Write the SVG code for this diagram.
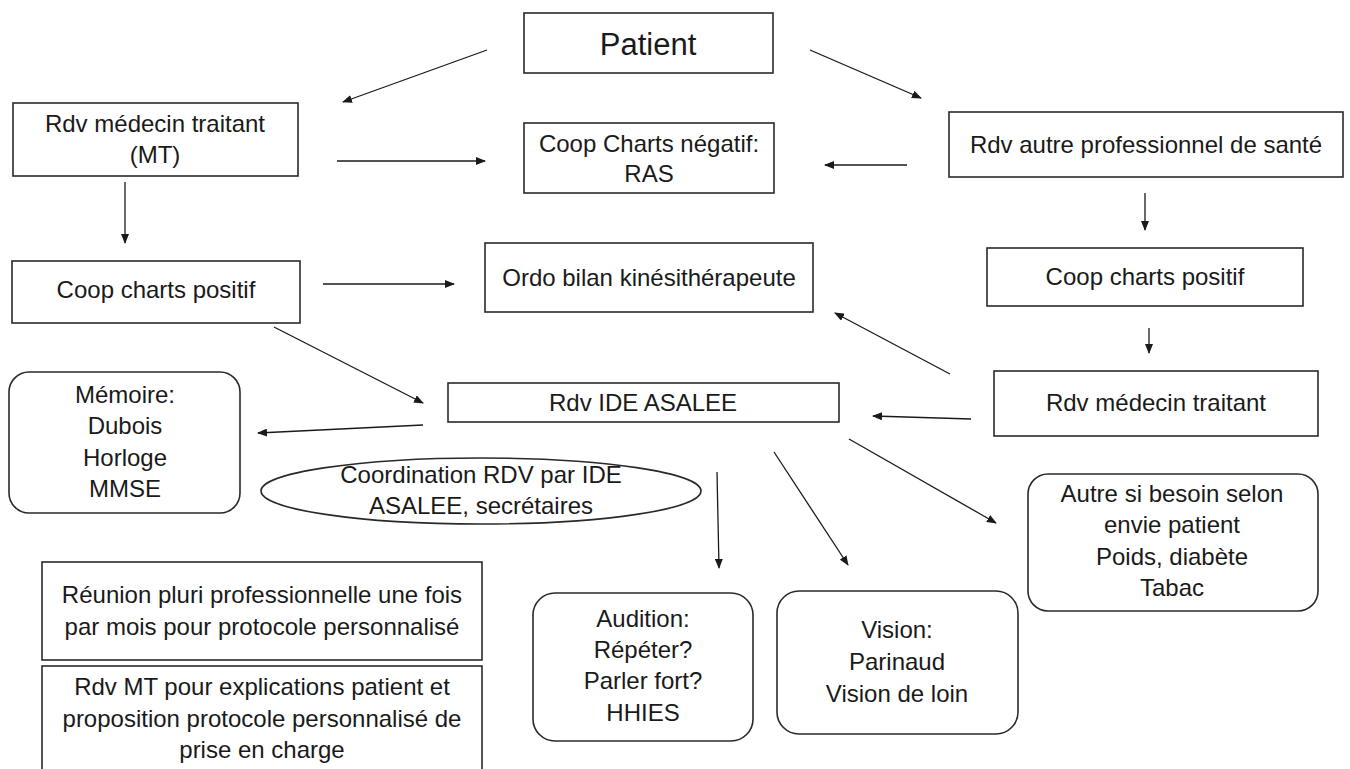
<svg xmlns="http://www.w3.org/2000/svg" width="1350" height="769" viewBox="0 0 1350 769">
<defs>
<style>
.box{fill:#fff;stroke:#2a2a2a;stroke-width:1.6}
.t{font-family:"Liberation Sans",Arial,sans-serif;font-size:24px;fill:#1a1a1a;text-anchor:middle}
.big{font-size:31px}
.c{stroke:#1a1a1a;stroke-width:1.3;fill:none;marker-end:url(#ah)}
</style>
<marker id="ah" markerUnits="userSpaceOnUse" markerWidth="10" markerHeight="8" refX="9" refY="4" orient="auto">
<path d="M0,0 L10,4 L0,8 z" fill="#1a1a1a"/>
</marker>
</defs>
<rect width="1350" height="769" fill="#fff"/>
<g id="connectors">
<line class="c" x1="487" y1="50" x2="343" y2="102"/>
<line class="c" x1="810" y1="50" x2="921" y2="98"/>
<line class="c" x1="337" y1="161" x2="485" y2="161"/>
<line class="c" x1="907" y1="165" x2="825" y2="165"/>
<line class="c" x1="125" y1="182" x2="125" y2="243"/>
<line class="c" x1="1145" y1="193" x2="1145" y2="230"/>
<line class="c" x1="323" y1="284" x2="454" y2="284"/>
<line class="c" x1="1149" y1="328" x2="1149" y2="353"/>
<line class="c" x1="950" y1="374" x2="835" y2="313"/>
<line class="c" x1="274" y1="327" x2="423" y2="403"/>
<line class="c" x1="423" y1="425" x2="258" y2="433"/>
<line class="c" x1="971" y1="419" x2="873" y2="416"/>
<line class="c" x1="717" y1="472" x2="719" y2="568"/>
<line class="c" x1="774" y1="452" x2="848" y2="565"/>
<line class="c" x1="849" y1="439" x2="996" y2="523"/>
</g>
<g id="patient">
<rect class="box" x="524" y="13" width="249" height="60"/>
<text class="t big" x="648" y="55">Patient</text>
</g>
<g id="rdv-mt">
<rect class="box" x="13" y="103" width="285" height="73"/>
<text class="t" x="155" y="132">Rdv médecin traitant</text>
<text class="t" x="155" y="163">(MT)</text>
</g>
<g id="coop-negatif">
<rect class="box" x="524" y="123" width="250" height="70"/>
<text class="t" x="649" y="152">Coop Charts négatif:</text>
<text class="t" x="649" y="182">RAS</text>
</g>
<g id="rdv-autre">
<rect class="box" x="949" y="112" width="394" height="65"/>
<text class="t" x="1146" y="153">Rdv autre professionnel de santé</text>
</g>
<g id="coop-positif-left">
<rect class="box" x="12" y="261" width="288" height="62"/>
<text class="t" x="156" y="298">Coop charts positif</text>
</g>
<g id="ordo">
<rect class="box" x="485" y="243" width="328" height="69"/>
<text class="t" x="649" y="286">Ordo bilan kinésithérapeute</text>
</g>
<g id="coop-positif-right">
<rect class="box" x="987" y="248" width="316" height="58"/>
<text class="t" x="1145" y="285">Coop charts positif</text>
</g>
<g id="memoire">
<rect class="box" x="9" y="372" width="231" height="141" rx="20"/>
<text class="t" x="125" y="403">Mémoire:</text>
<text class="t" x="125" y="434">Dubois</text>
<text class="t" x="125" y="466">Horloge</text>
<text class="t" x="125" y="497">MMSE</text>
</g>
<g id="rdv-ide">
<rect class="box" x="448" y="383" width="391" height="39"/>
<text class="t" x="643" y="411">Rdv IDE ASALEE</text>
</g>
<g id="rdv-mt-right">
<rect class="box" x="994" y="371" width="324" height="65"/>
<text class="t" x="1156" y="411">Rdv médecin traitant</text>
</g>
<g id="coordination">
<ellipse class="box" cx="481" cy="491" rx="220" ry="33"/>
<text class="t" x="481" y="483">Coordination RDV par IDE</text>
<text class="t" x="481" y="514">ASALEE, secrétaires</text>
</g>
<g id="autre">
<rect class="box" x="1028" y="474" width="290" height="137" rx="20"/>
<text class="t" x="1172" y="502">Autre si besoin selon</text>
<text class="t" x="1172" y="533">envie patient</text>
<text class="t" x="1172" y="565">Poids, diabète</text>
<text class="t" x="1172" y="596">Tabac</text>
</g>
<g id="reunion">
<rect class="box" x="42" y="562" width="440" height="98"/>
<text class="t" x="262" y="603">Réunion pluri professionnelle une fois</text>
<text class="t" x="262" y="635">par mois pour protocole personnalisé</text>
</g>
<g id="rdv-mt-explications">
<rect class="box" x="42" y="666" width="440" height="120"/>
<text class="t" x="262" y="695">Rdv MT pour explications patient et</text>
<text class="t" x="262" y="727">proposition protocole personnalisé de</text>
<text class="t" x="262" y="758">prise en charge</text>
</g>
<g id="audition">
<rect class="box" x="533" y="593" width="220" height="148" rx="22"/>
<text class="t" x="643" y="627">Audition:</text>
<text class="t" x="643" y="658">Répéter?</text>
<text class="t" x="643" y="689">Parler fort?</text>
<text class="t" x="643" y="721">HHIES</text>
</g>
<g id="vision">
<rect class="box" x="777" y="591" width="241" height="143" rx="22"/>
<text class="t" x="897" y="638">Vision:</text>
<text class="t" x="897" y="670">Parinaud</text>
<text class="t" x="897" y="702">Vision de loin</text>
</g>
</svg>
